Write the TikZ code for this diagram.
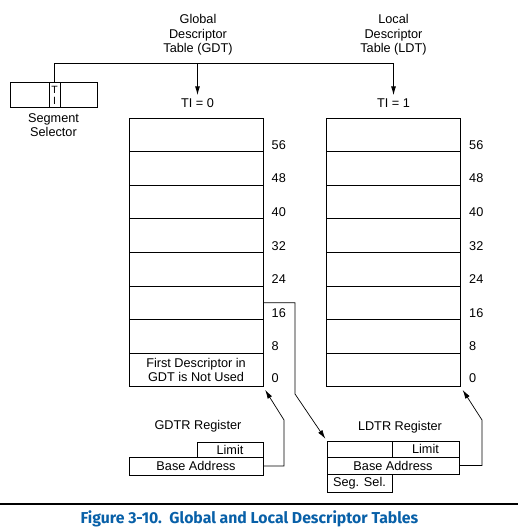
\documentclass[tikz,border=0pt]{standalone}
\usepackage{fontspec}
\setmainfont{Liberation Sans}
\newfontfamily\capfont{Fira Sans}
\usepackage{tikz}
\usetikzlibrary{arrows.meta}
\definecolor{intelblue}{RGB}{8,96,168}

\begin{document}
\begin{tikzpicture}[x=1pt,y=-1pt,
	every node/.style={font=\fontsize{12.7}{14.5}\selectfont},
	slot/.style={shape=rectangle,draw=black,line width=1pt,minimum width=134pt,minimum height=33.6pt,inner sep=0pt,align=center},
	cell/.style={shape=rectangle,draw=black,line width=1pt,inner sep=0pt},
	offs/.style={anchor=south west,inner sep=0pt,xshift=8pt,yshift=2.5pt},
	bus/.style={line width=1pt,-{Latex[length=9pt,width=5pt]}},
	link/.style={line width=0.7pt,-{Latex[length=9pt,width=5pt]}}]
	\useasboundingbox (0,0) rectangle (518,532);
	% segment selector
	\node[cell,minimum width=39pt,minimum height=25pt] (sela) at (29.5,95.5) {};
	\node[cell,minimum width=11pt,minimum height=25pt,align=center,font=\fontsize{10.5}{11}\selectfont] (ti) at (54.5,95.5) {T\\I};
	\node[cell,minimum width=37pt,minimum height=25pt] (selb) at (78.5,95.5) {};
	\node[align=center] (sellab) at (53.5,125) {Segment\\Selector};
	\node[align=center] (gdt) at (198,35) {Global\\Descriptor\\Table (GDT)};
	\node[align=center] (ldt) at (393.5,35) {Local\\Descriptor\\Table (LDT)};
	\node[inner sep=3pt] (tizero) at (197.5,103) {TI = 0};
	\node[inner sep=3pt] (tione) at (393.5,103) {TI = 1};
	\coordinate (turn) at (54.5,64);
	\draw[bus] (ti.north) -- (turn) -| (tione.north);
	\draw[bus] (turn -| tizero.north) -- (tizero.north);
	% global descriptor table
	\node[slot,label={[offs]south east:56}] (gd56) at (196,134.8) {};
	\node[slot,label={[offs]south east:48}] (gd48) at (196,168.4) {};
	\node[slot,label={[offs]south east:40}] (gd40) at (196,202.0) {};
	\node[slot,label={[offs]south east:32}] (gd32) at (196,235.6) {};
	\node[slot,label={[offs]south east:24}] (gd24) at (196,269.2) {};
	\node[slot,label={[offs]south east:16}] (gd16) at (196,302.8) {};
	\node[slot,label={[offs]south east:8}]  (gd8)  at (196,336.4) {};
	\node[slot,label={[offs,yshift=2pt]south east:0}] (gd0) at (196,370.0) {First Descriptor in\\GDT is Not Used};
	% local descriptor table
	\node[slot,label={[offs]south east:56}] (ld56) at (393.5,134.8) {};
	\node[slot,label={[offs]south east:48}] (ld48) at (393.5,168.4) {};
	\node[slot,label={[offs]south east:40}] (ld40) at (393.5,202.0) {};
	\node[slot,label={[offs]south east:32}] (ld32) at (393.5,235.6) {};
	\node[slot,label={[offs]south east:24}] (ld24) at (393.5,269.2) {};
	\node[slot,label={[offs]south east:16}] (ld16) at (393.5,302.8) {};
	\node[slot,label={[offs]south east:8}]  (ld8)  at (393.5,336.4) {};
	\node[slot,label={[offs,yshift=2pt]south east:0}] (ld0) at (393.5,370.0) {};
	% registers
	\node (gdtrlab) at (198,426) {GDTR Register};
	\node[cell,minimum width=66pt,minimum height=15pt] (glimit) at (230,449.5) {Limit};
	\node[cell,minimum width=134pt,minimum height=18pt] (gbase) at (196,466) {Base Address};
	\node (ldtrlab) at (400,427) {LDTR Register};
	\node[cell,minimum width=65pt,minimum height=16pt] (lcell) at (359.5,449) {};
	\node[cell,minimum width=67pt,minimum height=16pt] (llimit) at (425.5,449) {Limit};
	\node[cell,minimum width=132pt,minimum height=17pt] (lbase) at (393,465.5) {Base Address};
	\node[cell,minimum width=65pt,minimum height=18pt] (lsel) at (359.5,483) {Seg. Sel.};
	\coordinate (gbend) at (284,420);
	\coordinate (lbend) at (295,394);
	\coordinate (rbend) at (482,420);
	\draw[link,shorten >=3pt] (gbase.east) -| (gbend) -- (gd0.south east);
	\draw[link,shorten >=2pt] (gd16.east) -| (lbend) -- (lcell.north west);
	\draw[link,shorten >=3pt] (lbase.east) -| (rbend) -- (ld0.south east);
	% caption
	\coordinate (rulel) at (0,504);
	\coordinate (ruler) at (518,504);
	\draw[line width=1.2pt] (rulel) -- (ruler);
	\node[font=\capfont\bfseries\fontsize{15.8}{18}\selectfont,text=intelblue] (caption) at (249.5,519) {Figure 3-10.\ \ Global and Local Descriptor Tables};
\end{tikzpicture}
\end{document}
